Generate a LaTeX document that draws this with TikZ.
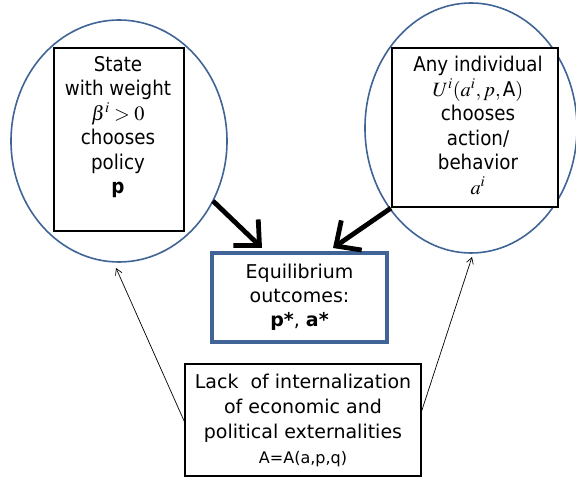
\documentclass[tikz,border=0pt]{standalone}
\usepackage{mathptmx}
\usepackage{fontspec}
\setmainfont{DejaVu Sans}
\newfontfamily\narrowfont{DejaVu Sans}[FakeStretch=0.9]
\usetikzlibrary{arrows.meta,shapes.geometric}
\definecolor{ellblue}{RGB}{65,100,150}
\tikzset{
  ell/.style={draw=ellblue, line width=1.6pt, ellipse, inner sep=0pt},
  rectbox/.style={draw=black, line width=2.2pt, inner sep=0pt},
  eqbox/.style={draw=ellblue, line width=4.5pt, inner sep=0pt},
  txt/.style={align=center, font=\narrowfont\fontsize{20.3}{24.5}\selectfont, inner sep=0pt},
  bigarrow/.style={line width=4.8pt, -{Straight Barb[length=19pt,width=36pt,line width=4.8pt]}},
  thinarrow/.style={line width=0.7pt, -{Straight Barb[length=6pt,width=7pt]}}
}
\begin{document}
\begin{tikzpicture}[x=1pt,y=-1pt]
\useasboundingbox (0,0) rectangle (576,478);
\clip (0,0) rectangle (576,478);
\fill[white] (0,0) rectangle (576,478);
% ellipses
\node[ell, minimum width=216pt, minimum height=242pt] (ellL) at (119,141) {};
\node[ell, minimum width=212pt, minimum height=250pt] (ellR) at (471,128) {};
% rects
\node[rectbox, fill=white, minimum width=130pt, minimum height=183pt] (rectL) at (119,139.5) {};
\node[rectbox, fill=white, minimum width=166pt, minimum height=159pt] (rectR) at (475,127.5) {};
\node[txt, anchor=north] (tL) at (118,56) {State\\with weight\\$\beta^i>0$\\chooses\\policy\\\textbf{p}};
\node[txt, anchor=north] (tR) at (478,56) {Any individual\\$U^i(a^i,p,\textrm{\narrowfont A})$\\chooses\\action/\\behavior\\$a^i$};
% equilibrium
\node[eqbox, minimum width=175pt, minimum height=89pt, align=center, font=\fontsize{19}{24}\selectfont] (eq) at (299.5,297.5) {Equilibrium\\outcomes:\\\textbf{p*}, \textbf{a*}};
% lack
\node[draw=black, line width=1.5pt, minimum width=236pt, minimum height=112pt, inner sep=0pt, align=center, font=\fontsize{19}{25}\selectfont] (lack) at (303,420) {Lack\ \ of internalization\\of economic and\\political externalities\\{\fontsize{16}{17}\selectfont A=A(a,p,q)}};
% arrows
\coordinate (aLs) at (213,201);
\coordinate (aLe) at (262,248);
\coordinate (aRe) at (333,248);
\draw[bigarrow] (aLs) -- (aLe);
\draw[bigarrow] (rectR.south west) -- (aRe);
\coordinate (tLs) at (185,423);
\coordinate (tLe) at (116,268);
\coordinate (tRs) at (421,413);
\coordinate (tRe) at (472,257);
\draw[thinarrow] (tLs) -- (tLe);
\draw[thinarrow] (tRs) -- (tRe);
\end{tikzpicture}
\end{document}
